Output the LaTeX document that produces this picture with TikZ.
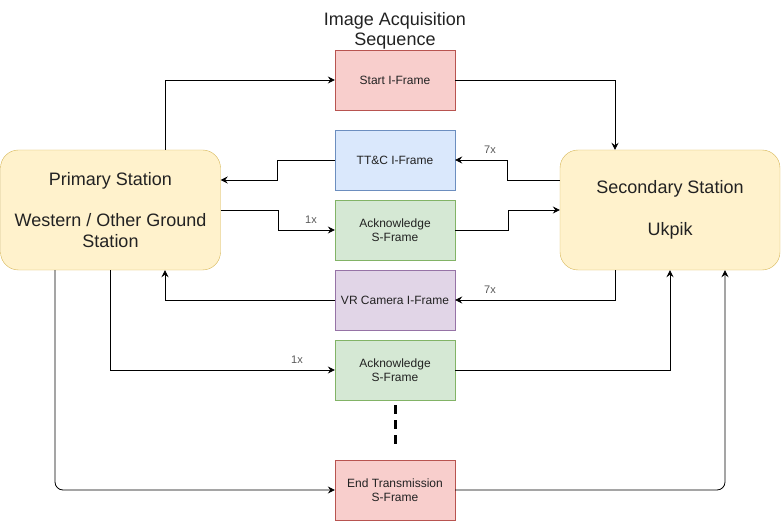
\documentclass[tikz,border=0pt]{standalone}
\usepackage{fontspec}
\setmainfont{Liberation Sans}
\usetikzlibrary{arrows.meta}
\definecolor{redF}{HTML}{F8CECC}\definecolor{redD}{HTML}{B85450}
\definecolor{bluF}{HTML}{DAE8FC}\definecolor{bluD}{HTML}{6C8EBF}
\definecolor{grnF}{HTML}{D5E8D4}\definecolor{grnD}{HTML}{82B366}
\definecolor{purF}{HTML}{E1D5E7}\definecolor{purD}{HTML}{9673A6}
\definecolor{yelF}{HTML}{FFF2CC}\definecolor{yelD}{HTML}{D6B656}
\definecolor{txt}{HTML}{222222}
\tikzset{
  station/.style={draw=yelD, fill=yelF, rounded corners=18pt, minimum width=220pt, minimum height=120pt, inner sep=0pt, align=center, font=\fontsize{18}{21}\selectfont, text=txt},
  frame/.style={minimum width=120pt, minimum height=60pt, inner sep=0pt, align=center, font=\fontsize{12}{14}\selectfont, text=txt},
  redbox/.style={frame, draw=redD, fill=redF},
  blubox/.style={frame, draw=bluD, fill=bluF},
  grnbox/.style={frame, draw=grnD, fill=grnF},
  purbox/.style={frame, draw=purD, fill=purF},
  arr/.style={-{Stealth[length=7pt,width=7pt,inset=2.5pt]}, line width=0.8pt},
  lbl/.style={font=\fontsize{11}{13}\selectfont, text=black!65, inner sep=0pt},
  ttl/.style={font=\fontsize{18}{20}\selectfont, align=center, text=txt, inner sep=0pt},
}
\begin{document}
\begin{tikzpicture}[x=1pt,y=-1pt]
\useasboundingbox (0,0) rectangle (781,521);
\node[ttl] (title) at (395,31) {Image Acquisition\\Sequence};
\node[station] (prim) at (110.5,210) {Primary Station\\[20pt]Western / Other Ground\\Station};
\node[station] (sec) at (670,210) {Secondary Station\\[21pt]Ukpik};
\node[redbox] (start) at (395,80) {Start I-Frame};
\node[blubox] (ttc) at (395,160) {TT\&C I-Frame};
\node[grnbox] (ack1) at (395,230) {Acknowledge\\S-Frame};
\node[purbox] (vr) at (395,300) {VR Camera I-Frame};
\node[grnbox] (ack2) at (395,370) {Acknowledge\\S-Frame};
\node[redbox] (endt) at (395,490) {End Transmission\\S-Frame};
\draw[arr] ([xshift=54.5pt]prim.north) |- (start.west);
\draw[arr] (start.east) -| ([xshift=-55pt]sec.north);
\draw[arr] ([yshift=30pt]sec.west) -- ++(-52,0) |- (ttc.east);
\node[lbl] (l1) at (490,150) {7x};
\draw[arr] (ttc.west) -- ++(-57,0) |- ([yshift=30pt]prim.east);
\draw[arr] (prim.east) -- ++(58,0) |- (ack1.west);
\node[lbl] (l2) at (311,220) {1x};
\draw[arr] (ack1.east) -- ++(53,0) |- (sec.west);
\draw[arr] ([xshift=-55pt]sec.south) |- (vr.east);
\node[lbl] (l3) at (490,290) {7x};
\draw[arr] (vr.west) -| ([xshift=54.5pt]prim.south);
\draw[arr] (prim.south) |- (ack2.west);
\node[lbl] (l4) at (297,360) {1x};
\draw[arr] (ack2.east) -| (sec.south);
\draw[arr, rounded corners=8pt] ([xshift=-55.5pt]prim.south) |- (endt.west);
\draw[arr, rounded corners=8pt] (endt.east) -| ([xshift=55pt]sec.south);
\draw[line width=3pt, dash pattern=on 9pt off 6pt] ([yshift=-5pt]ack2.south) -- ([yshift=10pt]endt.north);
\end{tikzpicture}
\end{document}
